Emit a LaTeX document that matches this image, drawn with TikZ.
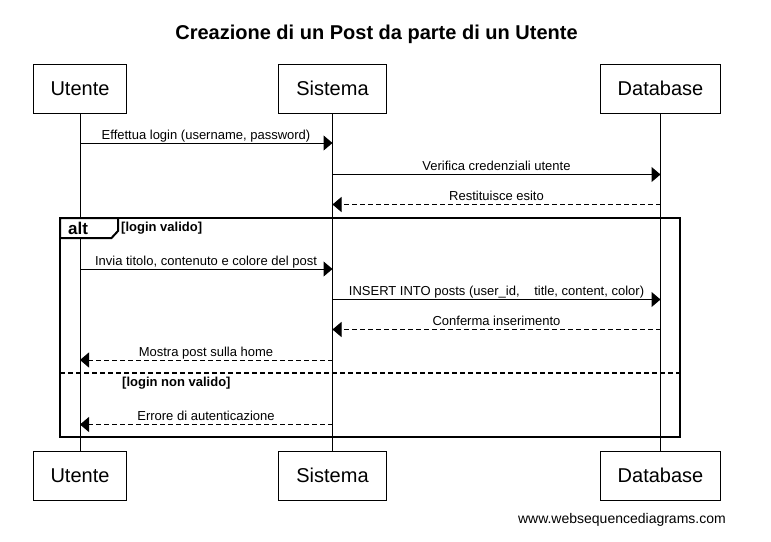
\documentclass[tikz,border=0pt]{standalone}
\usepackage{fontspec}
\setmainfont{Liberation Sans}
\usetikzlibrary{arrows.meta}
\tikzset{
  actor/.style={draw, line width=1pt, inner xsep=17.5pt, inner ysep=0pt, minimum height=49pt, font=\fontsize{20}{24}\selectfont},
  lifeline/.style={line width=1pt},
  msg/.style={line width=1pt, -{Triangle[length=9pt,width=15pt]}},
  ret/.style={msg, dash pattern=on 5pt off 3pt},
  lbl/.style={anchor=base, inner sep=0pt, font=\fontsize{13}{15}\selectfont},
  guard/.style={anchor=base west, inner sep=0pt, font=\bfseries\fontsize{13}{15}\selectfont},
  frameline/.style={line width=2pt},
}
\begin{document}
\begin{tikzpicture}[x=1pt,y=-1pt]
\useasboundingbox (0,0) rectangle (771,541);
\fill[white] (0,0) rectangle (771,541);
% title
\node[anchor=base, inner sep=0pt, font=\bfseries\fontsize{20}{24}\selectfont] (title) at (376.5,39.5) {Creazione di un Post da parte di un Utente};
% actors
\node[actor] (u) at (80,88.5) {Utente};
\node[actor] (s) at (332.5,88.5) {Sistema};
\node[actor] (d) at (660.5,88.5) {Database};
\node[actor] (ub) at (80,475.5) {Utente};
\node[actor] (sb) at (332.5,475.5) {Sistema};
\node[actor] (db) at (660.5,475.5) {Database};
% lifelines
\draw[lifeline] (u) -- (ub);
\draw[lifeline] (s) -- (sb);
\draw[lifeline] (d) -- (db);
% frame
\draw[frameline] (60,218) rectangle (680,437);
\filldraw[frameline, fill=white] (60,218) -- (118,218) -- (118,231) -- (111.5,238) -- (60,238) -- cycle;
\node[anchor=base west, inner sep=0pt, font=\bfseries\fontsize{17}{20}\selectfont] (alt) at (68,234) {alt};
\node[guard] (g1) at (121,231) {[login valido]};
\draw[frameline, dash pattern=on 5pt off 3pt] (60,373) -- (680,373);
\node[guard] (g2) at (122,386) {[login non valido]};
% messages
\draw[msg] (u.center |- 0,143) -- (s.center |- 0,143);
\node[lbl] (l1) at (206,139) {Effettua login (username, password)};
\draw[msg] (s.center |- 0,174.5) -- (d.center |- 0,174.5);
\node[lbl] (l2) at (496.5,170.5) {Verifica credenziali utente};
\draw[ret] (d.center |- 0,204.5) -- (s.center |- 0,204.5);
\node[lbl] (l3) at (496.5,200.5) {Restituisce esito};
\draw[msg] (u.center |- 0,269) -- (s.center |- 0,269);
\node[lbl] (l4) at (206,265) {Invia titolo, contenuto e colore del post};
\draw[msg] (s.center |- 0,299.5) -- (d.center |- 0,299.5);
\node[lbl] (l5) at (496.5,295.5) {INSERT INTO posts (user\_id,\hspace{11pt} title, content, color)};
\draw[ret] (d.center |- 0,329.5) -- (s.center |- 0,329.5);
\node[lbl] (l6) at (496.5,325.5) {Conferma inserimento};
\draw[ret] (s.center |- 0,360) -- (u.center |- 0,360);
\node[lbl] (l7) at (206,356) {Mostra post sulla home};
\draw[ret] (s.center |- 0,424.5) -- (u.center |- 0,424.5);
\node[lbl] (l8) at (206,420.5) {Errore di autenticazione};
% footer
\node[anchor=base east, inner sep=0pt, font=\fontsize{14}{16}\selectfont] (footer) at (726,523) {www.websequencediagrams.com};
\end{tikzpicture}
\end{document}
